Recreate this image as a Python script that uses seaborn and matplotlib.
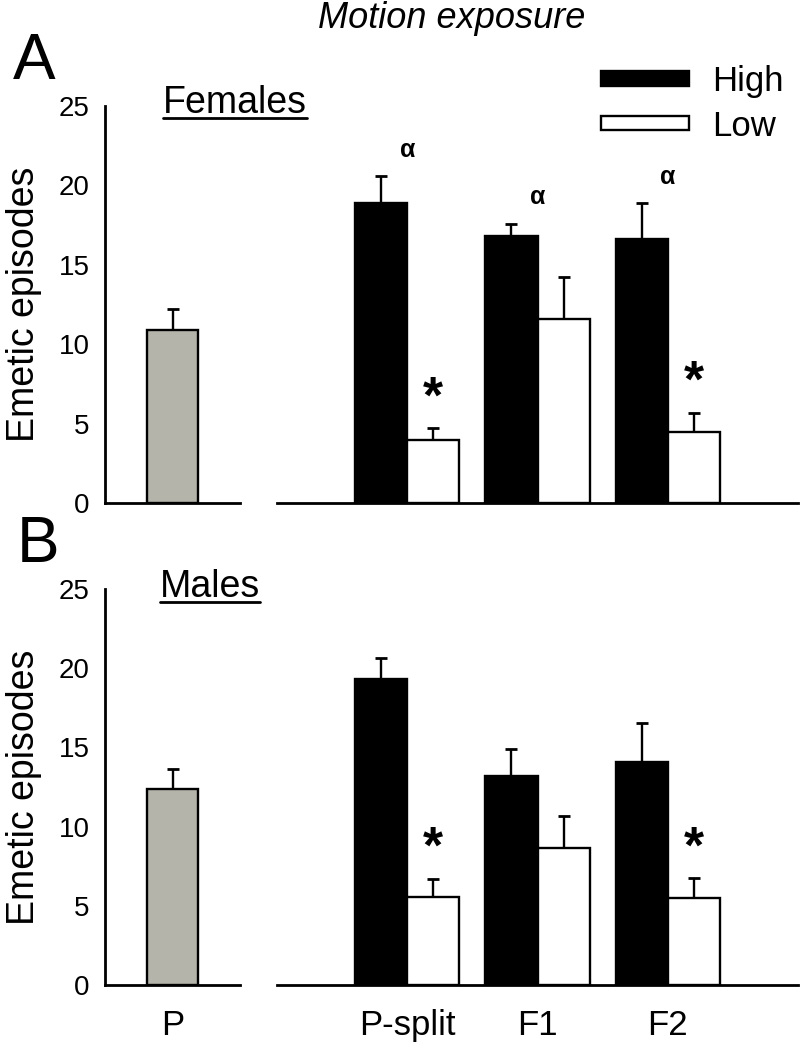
import numpy as np
import pandas as pd
import seaborn as sns
import matplotlib.pyplot as plt
from matplotlib.patches import Patch
from matplotlib.lines import Line2D

# data
groups = ["P-split", "F1", "F2"]
exposure = ["High", "Low"]

fem_high = [18.9, 16.8, 16.6]
fem_high_err = [1.7, 0.8, 2.3]
fem_low = [4.0, 11.6, 4.5]
fem_low_err = [0.7, 2.65, 1.2]
fem_p = 10.9
fem_p_err = 1.35
fem_alpha = [True, True, True]
fem_star = [True, False, True]

male_high = [19.3, 13.2, 14.1]
male_high_err = [1.35, 1.7, 2.45]
male_low = [5.55, 8.65, 5.5]
male_low_err = [1.15, 2.0, 1.25]
male_p = 12.4
male_p_err = 1.25
male_alpha = [False, False, False]
male_star = [True, False, True]

sns.set_style("white")
plt.rcParams['font.family'] = ['Liberation Sans', 'DejaVu Sans']
plt.rcParams['text.color'] = 'black'
plt.rcParams['axes.labelcolor'] = 'black'
plt.rcParams['xtick.color'] = 'black'
plt.rcParams['ytick.color'] = 'black'
plt.rcParams['axes.edgecolor'] = 'black'

gray = "#b4b4aa"
lw = 1.7

fig = plt.figure(figsize=(8, 10.43), dpi=100)


def up_errorbar(ax, xs, ys, err):
    # only the upper half of the error bar is shown
    _, caps, _ = ax.errorbar(xs, ys, yerr=[np.zeros(len(err)), err], fmt="none",
                             ecolor="black", elinewidth=lw, capsize=4.3,
                             capthick=2, zorder=3)
    caps[0].set_visible(False)


def style_axes(ax, left):
    ax.set_ylim(0, 25)
    for s in ["top", "right"]:
        ax.spines[s].set_visible(False)
    ax.spines["bottom"].set_linewidth(2)
    ax.spines["left"].set_linewidth(2)
    ax.tick_params(length=0)
    if left:
        ax.set_yticks([0, 5, 10, 15, 20, 25])
        ax.tick_params(axis="y", labelsize=20, pad=11)
        ax.set_ylabel("Emetic episodes", fontsize=27, labelpad=12)
    else:
        ax.spines["left"].set_visible(False)
        ax.set_yticks([])
        ax.set_ylabel("")


def panel(bottom, height, p_val, p_err, high, high_err, low, low_err, alphas, stars, show_x):
    axl = fig.add_axes([0.13125, bottom, 0.16875, height])
    axr = fig.add_axes([0.34625, bottom, 0.65125, height])

    sns.barplot(x=["P"], y=[p_val], color=gray, saturation=1, width=0.38,
                edgecolor="black", linewidth=lw, errorbar=None, ax=axl)
    up_errorbar(axl, [0], [p_val], [p_err])
    axl.set_xlim(-0.5, 0.5)

    df = pd.DataFrame({
        "group": groups * 2,
        "exposure": ["High"] * 3 + ["Low"] * 3,
        "value": high + low,
    })
    sns.barplot(data=df, x="group", y="value", hue="exposure", hue_order=exposure,
                palette={"High": "black", "Low": "white"}, saturation=1, width=0.8,
                edgecolor="black", linewidth=lw, errorbar=None, legend=False, ax=axr)
    for cont, v, e in zip(axr.containers, [high, low], [high_err, low_err]):
        xs = [b.get_x() + b.get_width() / 2 for b in cont]
        up_errorbar(axr, xs, v, e)
    axr.set_xlim(-1.0, 3.0)

    # significance marks
    low_x = [b.get_x() + b.get_width() / 2 for b in axr.containers[1]]
    for i in range(len(groups)):
        if alphas[i]:
            axr.text(i, high[i] + high_err[i] + 1.65, "α", ha="center", va="center",
                     fontsize=18, fontweight="bold")
        if stars[i]:
            axr.text(low_x[i], low[i] + low_err[i] + 1.85, "*", ha="center", va="center",
                     fontsize=37, fontweight="bold")

    style_axes(axl, True)
    style_axes(axr, False)
    for ax in (axl, axr):
        ax.set_xlabel("")
        if show_x:
            ax.tick_params(axis="x", labelsize=25, pad=17)
        else:
            ax.set_xticklabels([])
    return axl, axr


axA, axA2 = panel(0.5177, 0.3806, fem_p, fem_p_err, fem_high, fem_high_err,
                  fem_low, fem_low_err, fem_alpha, fem_star, False)
axB, axB2 = panel(0.0556, 0.3797, male_p, male_p_err, male_high, male_high_err,
                  male_low, male_low_err, male_alpha, male_star, True)

# text
fig.text(0.565, 0.973, "Motion exposure", style="italic", fontsize=26,
         ha="center", va="baseline")
fig.text(0.016, 0.9243, "A", fontsize=46, ha="left", va="baseline")
fig.text(0.021, 0.4612, "B", fontsize=46, ha="left", va="baseline")
tF = fig.text(0.204, 0.8917, "Females", fontsize=27, ha="left", va="baseline")
tM = fig.text(0.200, 0.4276, "Males", fontsize=27, ha="left", va="baseline")

fig.legend([Patch(facecolor="black", edgecolor="black", linewidth=lw),
            Patch(facecolor="white", edgecolor="black", linewidth=lw)],
           exposure, loc="upper left", bbox_to_anchor=(601 / 800, 1 - 65 / 1043),
           frameon=False, fontsize=25, handlelength=2.54, handleheight=0.25,
           handletextpad=0.65, labelspacing=0.34, borderpad=0, borderaxespad=0)

# underline the sex labels
fig.canvas.draw()
inv = fig.transFigure.inverted()
for t in (tF, tM):
    bb = t.get_window_extent()
    (x0, y0), (x1, _) = inv.transform([(bb.x0, bb.y0 + 3), (bb.x1, bb.y0)])
    fig.add_artist(Line2D([x0, x1], [y0, y0], color="black", lw=2,
                          transform=fig.transFigure))

fig.savefig("out.png", dpi=100)
